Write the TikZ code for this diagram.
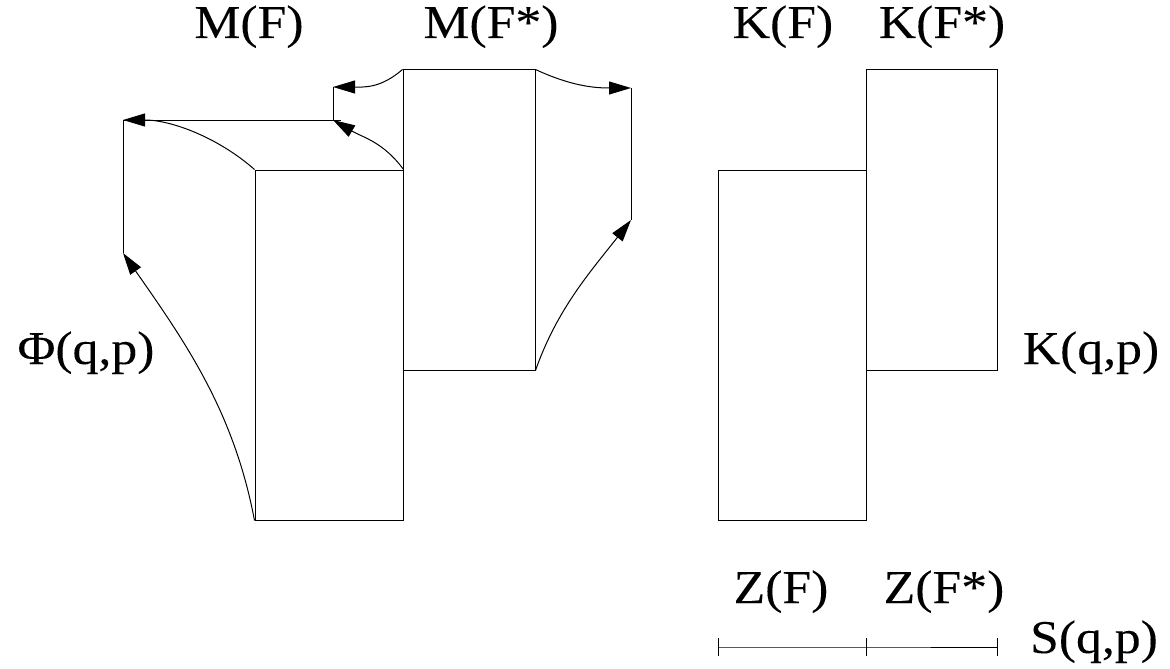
\documentclass[tikz,border=0pt]{standalone}
\usepackage{fontspec}
\setmainfont{Liberation Serif}[FakeStretch=1.1,FakeBold=0.1]
\usetikzlibrary{arrows.meta}
\begin{document}
\begin{tikzpicture}[x=1pt,y=-1pt,
  line width=1pt,
  box/.style={draw,inner sep=0pt,minimum width=#1},
  lbl/.style={anchor=base,inner sep=0pt,font=\fontsize{47}{56}\selectfont},
  arr/.style={-{Triangle[length=22pt,width=13pt]}},
  ticks/.style={line width=1pt}]
\useasboundingbox (0,0) rectangle (1170,669);

% phase-space cells
\node[box=148pt,minimum height=350pt] (MF)  at (329,345)   {};
\node[box=132pt,minimum height=300pt] (MFs) at (469,220)   {};
\node[box=148pt,minimum height=350pt] (KF)  at (792,345)   {};
\node[box=131pt,minimum height=300pt] (KFs) at (931.5,220) {};

% guide points of the mapping
\coordinate (p1) at (123,120);
\coordinate (p2) at (123,253);
\coordinate (p3) at (333,120);
\coordinate (p3e) at (341,120);
\coordinate (p4) at (333,87);
\coordinate (p5) at (631,88);
\coordinate (p6) at (631,220);

\draw (p2) -- (p1) -- (p3e);
\draw (p4) -- (p3);
\draw (p5) -- (p6);

% images of the cell corners
\draw[arr] (MF.north west) .. controls (218.6,137.8) and (171.6,120) .. (p1);
\draw[arr] (MF.north east) .. controls (383.5,142) and (362,137) .. (p3);
\draw[arr] (MFs.north west) .. controls (380,89) and (363,87) .. (p4);
\draw[arr] (MFs.north east) .. controls (570,85.5) and (593,88) .. (p5);
\draw[arr] (MFs.south east) .. controls (557,309) and (591,271) .. (p6);
\draw[arr] (MF.south west) .. controls (234,412) and (186,343) .. (p2);

% entropy scale
\coordinate (z0) at (718,647);
\coordinate (z1) at (866,647);
\coordinate (z2) at (997,647);
\draw[ticks] (z0) -- (z1) -- (z2);
\foreach \t in {z0,z1,z2}
  \draw[ticks] ([yshift=-9pt]\t) -- ([yshift=9pt]\t);

% labels
\node[lbl] (lMF)  at (249,38)  {M(F)};
\node[lbl] (lMFs) at (491,38)  {M(F*)};
\node[lbl] (lKF)  at (783,38)  {K(F)};
\node[lbl] (lKFs) at (942,38)  {K(F*)};
\node[lbl] (lPhi) at (86,364)  {Φ(q,p)};
\node[lbl] (lK)   at (1091,364) {K(q,p)};
\node[lbl] (lZF)  at (781,603) {Z(F)};
\node[lbl] (lZFs) at (944,603) {Z(F*)};
\node[lbl] (lS)   at (1094,653) {S(q,p)};
\end{tikzpicture}
\end{document}
